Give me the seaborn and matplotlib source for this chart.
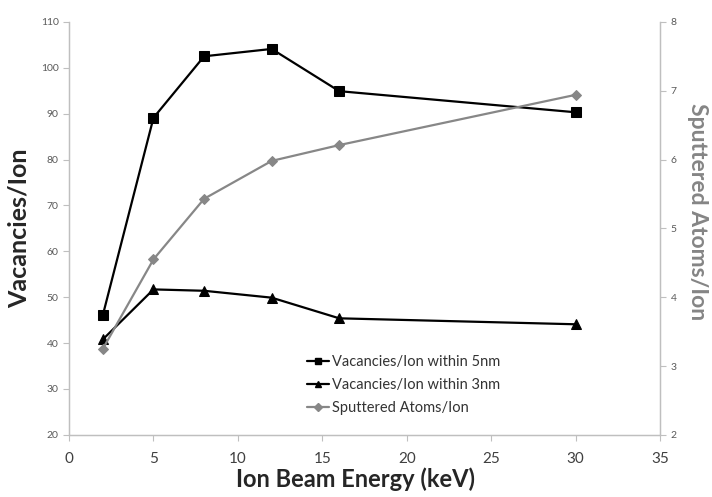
import pandas as pd
import seaborn as sns
import matplotlib.pyplot as plt
from matplotlib.lines import Line2D

# data
energy = [2, 5, 8, 12, 16, 30]
vac_5nm = [46.1, 89.1, 102.5, 104.1, 94.9, 90.3]
vac_3nm = [40.8, 51.7, 51.4, 49.9, 45.4, 44.1]
sputtered = [3.25, 4.55, 5.43, 5.98, 6.21, 6.94]

df = pd.DataFrame({'energy': energy, 'vac5': vac_5nm, 'vac3': vac_3nm, 'sput': sputtered})

sns.set_style('white')
plt.rcParams['font.family'] = ['Lato', 'DejaVu Sans']

fig = plt.figure(figsize=(7.12, 4.97), dpi=100)
ax = fig.add_axes([0.097, 0.125, 0.83, 0.831])
ax2 = ax.twinx()

sns.lineplot(data=df, x='energy', y='vac5', ax=ax, color='black', lw=1.6,
             marker='s', markersize=7, markeredgecolor='black')
sns.lineplot(data=df, x='energy', y='vac3', ax=ax, color='black', lw=1.6,
             marker='^', markersize=7, markeredgecolor='black')
sns.lineplot(data=df, x='energy', y='sput', ax=ax2, color='#878787', lw=1.6,
             marker='D', markersize=5, markeredgecolor='#878787')

ax.set_xlim(0, 35)
ax.set_ylim(20, 110)
ax2.set_ylim(2, 8)
ax.set_xticks(range(0, 36, 5))
ax.set_yticks(range(20, 111, 10))
ax2.set_yticks(range(2, 9))

spine_col = '#bfbfbf'
for a in (ax, ax2):
    for s in a.spines.values():
        s.set_color(spine_col)
        s.set_linewidth(0.9)
    a.spines['top'].set_visible(False)
ax.tick_params(axis='x', direction='out', length=4, color=spine_col, labelsize=11,
               labelcolor='#404040', bottom=True, pad=8)
ax.tick_params(axis='y', direction='out', length=4, color=spine_col, labelsize=7.5, labelcolor='#595959', left=True)
ax2.tick_params(axis='y', direction='out', length=4, color=spine_col, labelsize=7.5, labelcolor='#595959', right=True)

ax.set_xlabel('Ion Beam Energy (keV)', fontsize=17, fontweight='bold', labelpad=1)
ax.xaxis.label.set_x(0.485)
ax.set_ylabel('Vacancies/Ion', fontsize=18, fontweight='bold', labelpad=7)
ax2.set_ylabel('Sputtered Atoms/Ion', fontsize=16.5, fontweight='bold', color='#858585',
               rotation=270, labelpad=23)
ax2.yaxis.label.set_y(0.54)

handles = [
    Line2D([], [], color='black', lw=1.6, marker='s', markersize=5),
    Line2D([], [], color='black', lw=1.6, marker='^', markersize=5),
    Line2D([], [], color='#878787', lw=1.6, marker='D', markersize=4),
]
labels = ['Vacancies/Ion within 5nm', 'Vacancies/Ion within 3nm', 'Sputtered Atoms/Ion']
ax.legend(handles, labels, loc='upper left', bbox_to_anchor=(0.38, 0.225), frameon=False,
          fontsize=10.5, handlelength=1.5, handletextpad=0.2, labelspacing=0.62,
          labelcolor='#333333')

plt.savefig('out.png', dpi=100)
